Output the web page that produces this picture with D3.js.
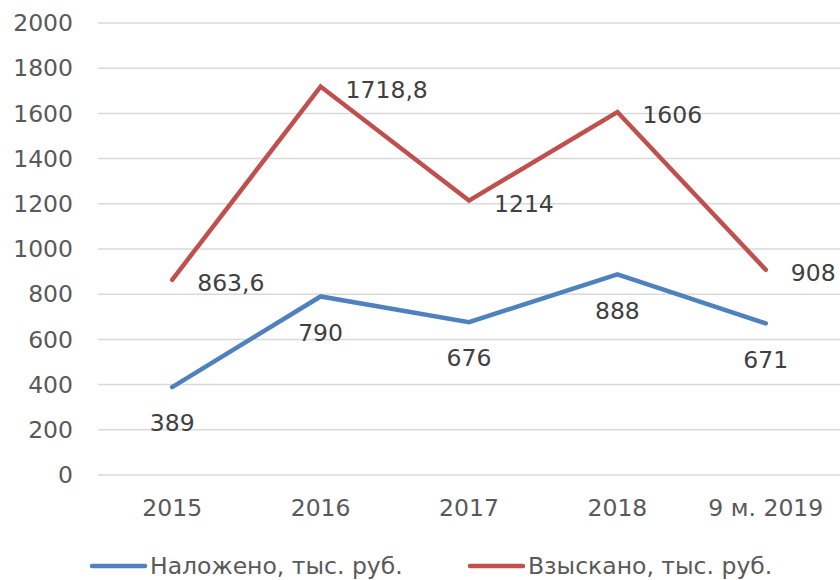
<!DOCTYPE html>
<html>
<head>
<meta charset="utf-8">
<script src="https://cdn.jsdelivr.net/npm/d3@7"></script>
<style>
  body { margin: 0; background: #fff; }
  svg text { font-family: "DejaVu Sans", sans-serif; }
</style>
</head>
<body>
<svg id="chart" width="840" height="580"></svg>
<script>
// chart data
const categories = ['2015', '2016', '2017', '2018', '9 м. 2019'];
const imposed = [389, 790, 676, 888, 671];
const collected = [863.6, 1718.8, 1214, 1606, 908];
const imposedLabels = ['389', '790', '676', '888', '671'];
const collectedLabels = ['863,6', '1718,8', '1214', '1606', '908'];
const yTicks = [0, 200, 400, 600, 800, 1000, 1200, 1400, 1600, 1800, 2000];
const seriesNames = ['Наложено, тыс. руб.', 'Взыскано, тыс. руб.'];

const svg = d3.select('#chart');
const plotLeft = 98, plotRight = 840, plotTop = 23, plotBottom = 475;
const fs = 23.5;

const x = d3.scaleBand().domain(categories).range([plotLeft, plotRight]);
const y = d3.scaleLinear().domain([0, 2000]).range([plotBottom, plotTop]);
const cx = d => x(d) + x.bandwidth() / 2;

// gridlines
svg.append('g').selectAll('line').data(yTicks).join('line')
  .attr('x1', plotLeft).attr('x2', plotRight)
  .attr('y1', d => y(d)).attr('y2', d => y(d))
  .attr('stroke', '#d9d9d9').attr('stroke-width', 1.5);

// y axis labels
svg.append('g').selectAll('text').data(yTicks).join('text')
  .attr('x', 73).attr('y', d => y(d)).attr('dy', '0.35em')
  .attr('text-anchor', 'end').attr('font-size', fs).attr('fill', '#595959')
  .text(d => d);

// x axis labels
svg.append('g').selectAll('text').data(categories).join('text')
  .attr('x', d => cx(d)).attr('y', 508).attr('dy', '0.35em')
  .attr('text-anchor', 'middle').attr('font-size', fs).attr('fill', '#595959')
  .text(d => d);

const line = d3.line().x(d => cx(d.c)).y(d => y(d.v));
const series = [
  { vals: imposed, labels: imposedLabels, color: '#4f81bd', dx: 0, dy: 36, anchor: 'middle' },
  { vals: collected, labels: collectedLabels, color: '#c0504d', dx: 25, dy: 3, anchor: 'start' }
];

series.forEach(s => {
  const pts = categories.map((c, i) => ({ c, v: s.vals[i], l: s.labels[i] }));
  svg.append('path').datum(pts)
    .attr('d', line).attr('fill', 'none')
    .attr('stroke', s.color).attr('stroke-width', 4.5)
    .attr('stroke-linejoin', 'miter').attr('stroke-linecap', 'round');
  svg.append('g').selectAll('text').data(pts).join('text')
    .attr('x', d => cx(d.c) + s.dx).attr('y', d => y(d.v) + s.dy).attr('dy', '0.35em')
    .attr('text-anchor', s.anchor).attr('font-size', fs).attr('fill', '#404040')
    .text(d => d.l);
});

// legend
const legendX = [92, 470];
seriesNames.forEach((name, i) => {
  const g = svg.append('g').attr('transform', `translate(${legendX[i]},566)`);
  g.append('line').attr('x1', 0).attr('x2', 53).attr('y1', 0).attr('y2', 0)
    .attr('stroke', series[i].color).attr('stroke-width', 4.5).attr('stroke-linecap', 'round');
  g.append('text').attr('x', 58).attr('y', 0).attr('dy', '0.35em')
    .attr('font-size', fs).attr('fill', '#595959').text(name);
});
</script>
</body>
</html>
